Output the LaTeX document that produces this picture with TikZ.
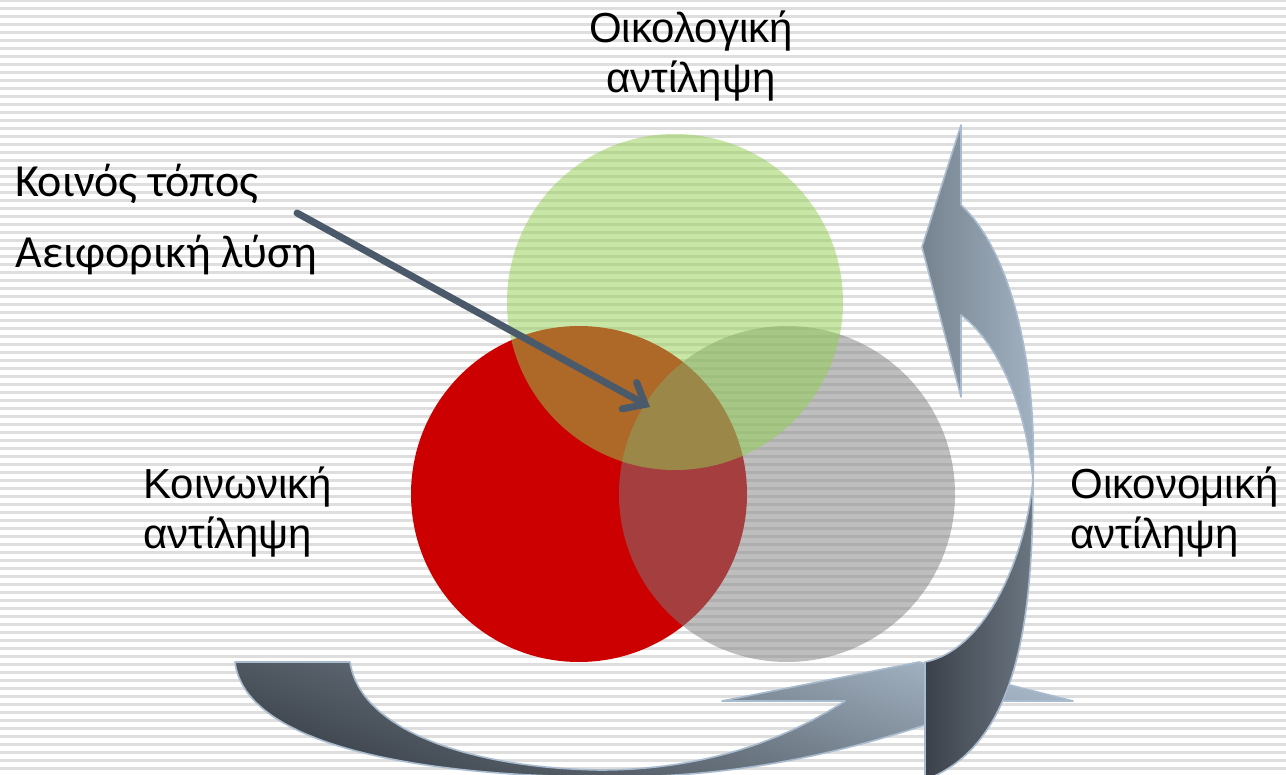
\documentclass[tikz,border=0pt]{standalone}
\usepackage{fontspec}
\setmainfont{Liberation Sans}
\newfontfamily\calib{Carlito}
\usepackage{tikz}
\usetikzlibrary{arrows.meta}
\definecolor{socred}{HTML}{CC0000}
\definecolor{ecogreen}{HTML}{92D050}
\definecolor{econgrey}{HTML}{7F7F7F}
\definecolor{stripegrey}{HTML}{DEDEDE}
\definecolor{pointc}{HTML}{4A5A6B}
\definecolor{rimc}{HTML}{A9BCCF}
\definecolor{lightarr}{HTML}{A3B3C3}
\definecolor{midarr}{HTML}{76838F}
\definecolor{darkarr}{HTML}{3B4149}
\definecolor{backarr}{HTML}{6B7682}
\tikzset{lbl/.style = {inner sep=0pt,font=\fontsize{21}{25}\selectfont},
         cal/.style = {inner sep=0pt,font=\calib\fontsize{23}{27}\selectfont},
         stripe/.style = {stripegrey,line width=1.5pt},
         disc/.style = {radius=84pt},
         rim/.style = {draw=rimc,line width=0.8pt,line join=round},
         pointer/.style = {pointc,line width=3.5pt,line cap=round,
                           -{Straight Barb[length=9pt,width=15pt,line cap=round]}}}

\begin{document}
\begin{tikzpicture}[x=0.5pt,y=-0.5pt]
  \useasboundingbox (0,0) rectangle (1286,775);
  \begin{scope}
    \clip (0,0) rectangle (1286,775);
    \fill[white] (0,0) rectangle (1286,775);
    \foreach \k in {0,...,97}
      \draw[stripe] (0,0.5+8*\k) -- (1286,0.5+8*\k);

    % the three views
    \coordinate (soc) at (579,494);
    \coordinate (econ) at (787,494);
    \coordinate (eco) at (675,302);
    \fill[socred] (soc) circle[disc];
    \fill[econgrey,opacity=0.5] (econ) circle[disc];
    \fill[ecogreen,opacity=0.5] (eco) circle[disc];

    % bottom curved arrow
    \shade[rim,top color=lightarr,bottom color=darkarr,middle color=midarr!80!darkarr,shading angle=-20]
      (235,662) -- (350,662) .. controls (360,730) and (470,768) .. (600,770)
      .. controls (720,770) and (800,730) .. (845,701) -- (722,701) -- (919,662)
      -- (1073,701) -- (995,701) .. controls (900,735) and (780,776) .. (620,777)
      .. controls (420,778) and (245,745) .. (235,662) -- cycle;

    % right curved arrow, back side
    \shade[rim,left color=darkarr,right color=backarr]
      (925,662) .. controls (985,650) and (1025,560) .. (1033,480)
      .. controls (1033,620) and (1018,745) .. (925,780) -- cycle;
    % right curved arrow, front side with head
    \shade[rim,left color=midarr,right color=lightarr]
      (961,125) -- (922,247) -- (961,397) -- (961,315)
      .. controls (995,340) and (1025,400) .. (1033,480)
      .. controls (1037,360) and (1010,250) .. (961,205) -- cycle;
  \end{scope}

  \node[lbl,align=center,anchor=north] (ecolab) at (691,10) {Οικολογική\\αντίληψη};
  \node[lbl,align=left,anchor=north west] (soclab) at (143,466) {Κοινωνική\\αντίληψη};
  \node[lbl,align=left,anchor=north west] (econlab) at (1070,466) {Οικονομική\\αντίληψη};
  \node[cal,anchor=base west] (common) at (15,197) {Κοινός τόπος};
  \node[cal,anchor=base west] (sustain) at (15,268) {Αειφορική λύση};

  \coordinate (ptail) at (297,213);
  \coordinate (phead) at (650,407);
  \draw[pointer] (ptail) -- (phead);
\end{tikzpicture}
\end{document}
